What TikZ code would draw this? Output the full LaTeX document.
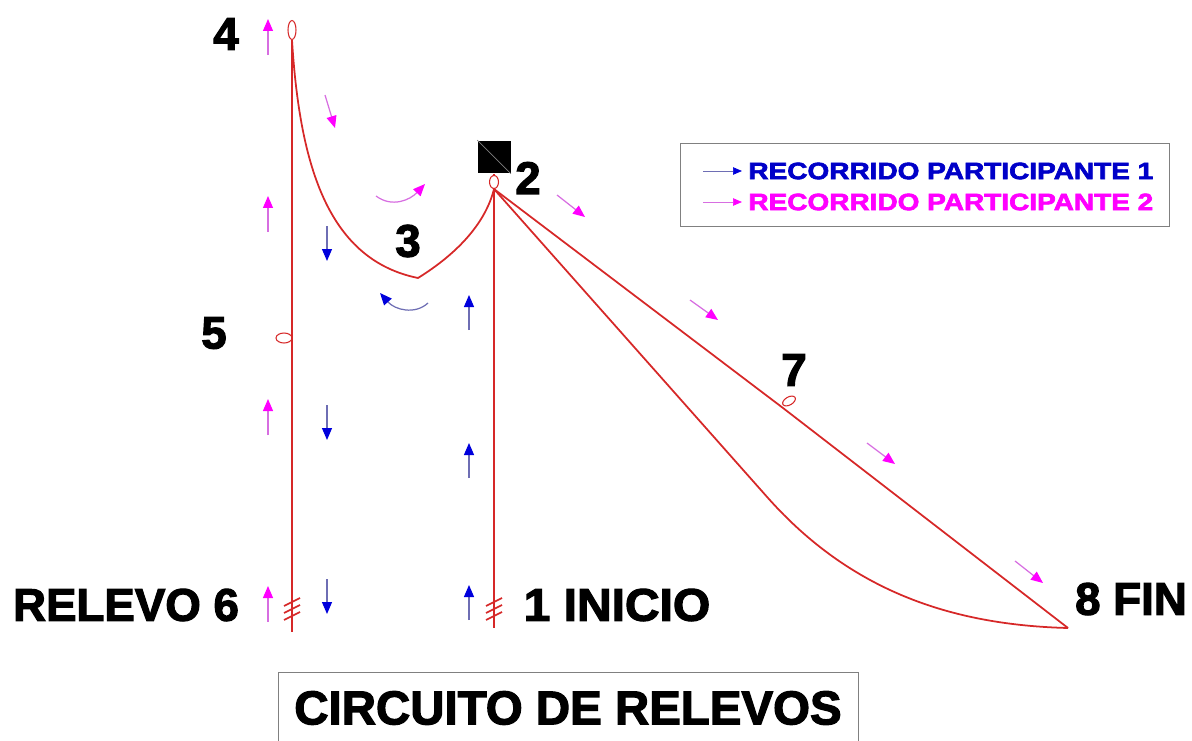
\documentclass[tikz,border=0pt]{standalone}
\usepackage{fontspec}
\newfontfamily\heavy{Liberation Sans Bold}[FakeBold=2.5]
\usetikzlibrary{arrows.meta,shapes.geometric}
\definecolor{ropered}{RGB}{214,40,40}
\definecolor{pinkhead}{RGB}{255,0,255}
\definecolor{pinkshaft}{RGB}{215,110,225}
\definecolor{bluehead}{RGB}{0,0,220}
\definecolor{blueshaft}{RGB}{110,110,180}
\definecolor{legblue}{RGB}{0,0,200}

\begin{document}
\begin{tikzpicture}[x=0.02cm, y=-0.02cm,
    rope/.style={draw=ropered, line width=1pt},
    hook/.style={ellipse, draw=ropered, line width=0.6pt, inner sep=0pt},
    num/.style={font=\heavy\fontsize{26}{28}\selectfont},
    leg/.style={anchor=west, inner sep=0pt, xscale=1.18, font=\heavy\fontsize{13.5}{15}\selectfont},
    pa/.style={draw=pinkshaft, line width=0.7pt, -{Triangle[length=0.24cm, width=0.2cm, color=pinkhead]}},
    pb/.style={draw=blueshaft, line width=0.7pt, -{Triangle[length=0.24cm, width=0.2cm, color=bluehead]}}]

    \useasboundingbox (0,0) rectangle (1192,740);

    % hooks and the box at 2
    \draw(292,30) node[hook, minimum width=0.16cm, minimum height=0.38cm] (h4) {};
    \draw(494,157) node[fill=black, minimum size=0.66cm, inner sep=0pt] (box) {};
    \draw[gray] (box.north west) -- (box.south east);
    \draw(494,182) node[hook, minimum width=0.18cm, minimum height=0.26cm] (h2) {};
    \draw[ropered, line width=0.6pt] (box.south) -- (h2.north);
    \draw(284,338) node[hook, minimum width=0.32cm, minimum height=0.2cm] (h5) {};
    \draw(789,401) node[hook, rotate=30, minimum width=0.28cm, minimum height=0.16cm] (h7) {};

    \coordinate (a6) at (292,632);
    \coordinate (a1) at (494,628);
    \coordinate (k3) at (418,278);
    \coordinate (r7) at (783,408);
    \coordinate (k8) at (768,498);
    \coordinate (f8) at (1068,628);

    % ropes
    \draw[rope] (h4.south) -- (a6);
    \draw[rope] (h2.south) -- (a1);
    \draw[rope] (h4.south) .. controls (300,170) and (330,260) .. (k3) .. controls (455,255) and (485,225) .. (h2.south);
    \draw[rope] (h2.south) -- (r7) -- (f8);
    \draw[rope] (h2.south) -- (k8) .. controls (850,590) and (950,625) .. (f8);
    \foreach \x in {292,494}
        \foreach \y in {602,609,616}
            \draw[rope] (\x-8,\y+4) -- (\x+8,\y-4);

    % labels
    \draw(226,34) node[num] (n4) {4};
    \draw(528,178) node[num] (n2) {2};
    \draw(408,241) node[num] (n3) {3};
    \draw(214,333) node[num] (n5) {5};
    \draw(794,370) node[num] (n7) {7};
    \draw(126,605) node[num] (n6) {RELEVO 6};
    \draw(617,605) node[num, xscale=1.05] (n1) {1 INICIO};
    \draw(1131,599) node[num] (n8) {8 FIN};

    % participant 2
    \foreach \y in {55,232,435,622}
        \draw[pa] (268,\y) -- (268,\y-36);
    \draw[pa] (325,95) -- (335,128);
    \draw[pa] (376,196) .. controls (392,208) and (410,200) .. (425,184);
    \draw[pa] (557,195) -- (585,217);
    \draw[pa] (690,300) -- (718,320);
    \draw[pa] (867,443) -- (895,464);
    \draw[pa] (1015,561) -- (1043,583);

    % participant 1
    \foreach \y in {226,405,579}
        \draw[pb] (327,\y) -- (327,\y+35);
    \foreach \y in {330,478,620}
        \draw[pb] (469,\y) -- (469,\y-35);
    \draw[pb] (428,303) .. controls (415,315) and (395,310) .. (380,293);

    % legend
    \draw[gray] (680,143) rectangle (1169,226);
    \draw[blueshaft, -{Triangle[length=0.18cm, width=0.15cm, color=bluehead]}] (703,171) -- (742,171);
    \draw[pinkshaft, -{Triangle[length=0.18cm, width=0.15cm, color=pinkhead]}] (703,202) -- (742,202);
    \draw(748,171) node[leg, text=legblue] (l1) {RECORRIDO PARTICIPANTE 1};
    \draw(748,202) node[leg, text=pinkhead] (l2) {RECORRIDO PARTICIPANTE 2};

    % title
    \draw[gray] (278,672) rectangle (858,750);
    \draw(568,708) node[num, font=\heavy\fontsize{27}{29}\selectfont] (t) {CIRCUITO DE RELEVOS};

\end{tikzpicture}
\end{document}
